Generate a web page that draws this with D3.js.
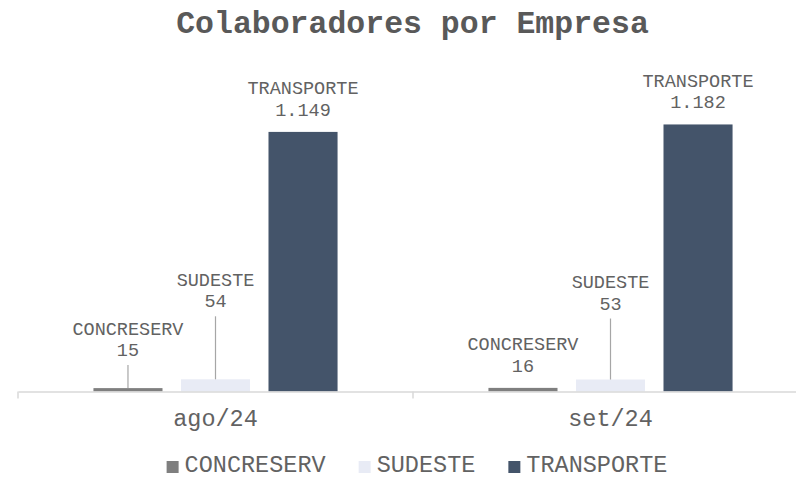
<!DOCTYPE html>
<html>
<head>
<meta charset="utf-8">
<script src="https://cdn.jsdelivr.net/npm/d3@7"></script>
<style>
  html, body { margin: 0; padding: 0; background: #fff; }
  svg { display: block; }
  text { font-family: "Liberation Mono", "Courier New", monospace; }
</style>
</head>
<body>
<svg id="chart" width="796" height="479"></svg>
<script>
// ---- data ----
const categories = ["ago/24", "set/24"];
const seriesNames = ["CONCRESERV", "SUDESTE", "TRANSPORTE"];
const concreserv = [15, 16];
const sudeste = [54, 53];
const transporte = [1149, 1182];
const valueLabels = [["15", "54", "1.149"], ["16", "53", "1.182"]];

// ---- style / layout config ----
const colors = { CONCRESERV: "#7f7f7f", SUDESTE: "#e8ebf5", TRANSPORTE: "#44546a" };
// extra lift (px) of data labels above bars, with leader lines (moved labels)
const labelLift = [
  { CONCRESERV: 32, SUDESTE: 72, TRANSPORTE: 16 },
  { CONCRESERV: 16, SUDESTE: 70, TRANSPORTE: 16 }
];
const leader = [
  { CONCRESERV: true, SUDESTE: true, TRANSPORTE: false },
  { CONCRESERV: false, SUDESTE: true, TRANSPORTE: false }
];

const seriesValues = { CONCRESERV: concreserv, SUDESTE: sudeste, TRANSPORTE: transporte };

const svg = d3.select("#chart");
const textColor = "#626262";
const baseY = 391.5;

const x0 = d3.scaleBand().domain(categories).range([18, 808]).paddingInner(0).paddingOuter(0);
const x1 = d3.scaleBand().domain(seriesNames).range([0, x0.bandwidth()])
  .paddingInner(0.211).paddingOuter(0.862);
const y = d3.scaleLinear().domain([0, 1400]).range([baseY, baseY - 316.3]);

// title
svg.append("text")
  .attr("x", 412.5).attr("y", 33)
  .attr("text-anchor", "middle")
  .attr("font-size", "31.5px").attr("font-weight", "bold")
  .attr("fill", "#595959")
  .text("Colaboradores por Empresa");

// bars
const groups = svg.append("g").selectAll("g")
  .data(categories).join("g")
  .attr("transform", d => `translate(${x0(d)},0)`);

groups.each(function (cat, ci) {
  const g = d3.select(this);
  seriesNames.forEach((s, si) => {
    const v = seriesValues[s][ci];
    const bx = x1(s);
    const bw = x1.bandwidth();
    g.append("rect")
      .attr("x", bx).attr("width", bw)
      .attr("y", y(v)).attr("height", baseY - y(v))
      .attr("fill", colors[s]);
    const cx = bx + bw / 2;
    const top = y(v);
    const valBase = top - labelLift[ci][s];
    if (leader[ci][s]) {
      g.append("line")
        .attr("x1", cx).attr("x2", cx)
        .attr("y1", valBase + 9).attr("y2", top)
        .attr("stroke", "#a6a6a6").attr("stroke-width", 1.2);
    }
    g.append("text")
      .attr("x", cx).attr("y", valBase - 21.5)
      .attr("text-anchor", "middle").attr("font-size", "18.5px")
      .attr("fill", textColor).text(s);
    g.append("text")
      .attr("x", cx).attr("y", valBase)
      .attr("text-anchor", "middle").attr("font-size", "18.5px")
      .attr("fill", textColor).text(valueLabels[ci][si]);
  });
});

// x axis
const axis = d3.axisBottom(x0).tickSize(0).tickPadding(0);
const ax = svg.append("g").attr("transform", `translate(0,${baseY})`).call(axis);
ax.select(".domain").attr("stroke", "#d9d9d9").attr("stroke-width", 1.5);
ax.selectAll(".tick text")
  .attr("y", 34).attr("dy", null)
  .attr("font-size", "23.5px")
  .attr("font-family", "'Liberation Mono', 'Courier New', monospace")
  .attr("fill", textColor);
// category boundary ticks
const bounds = categories.map(c => x0(c)).concat([x0.range()[1]]);
ax.selectAll(".bound").data(bounds).join("line")
  .attr("class", "bound")
  .attr("x1", d => d).attr("x2", d => d)
  .attr("y1", 0).attr("y2", 7)
  .attr("stroke", "#d9d9d9").attr("stroke-width", 1.5);

// legend
const legend = svg.append("g");
let cursor = 0;
seriesNames.forEach(s => {
  const it = legend.append("g");
  it.append("rect").attr("x", 0).attr("y", -11).attr("width", 12).attr("height", 12)
    .attr("fill", colors[s]);
  const t = it.append("text").attr("x", 18).attr("y", 0)
    .attr("font-size", "23.5px").attr("fill", textColor).text(s);
  const w = 18 + t.node().getComputedTextLength();
  it.attr("transform", `translate(${cursor},0)`);
  cursor += w + 33;
});
const totalW = cursor - 33;
legend.attr("transform", `translate(${417 - totalW / 2},472)`);
</script>
</body>
</html>
